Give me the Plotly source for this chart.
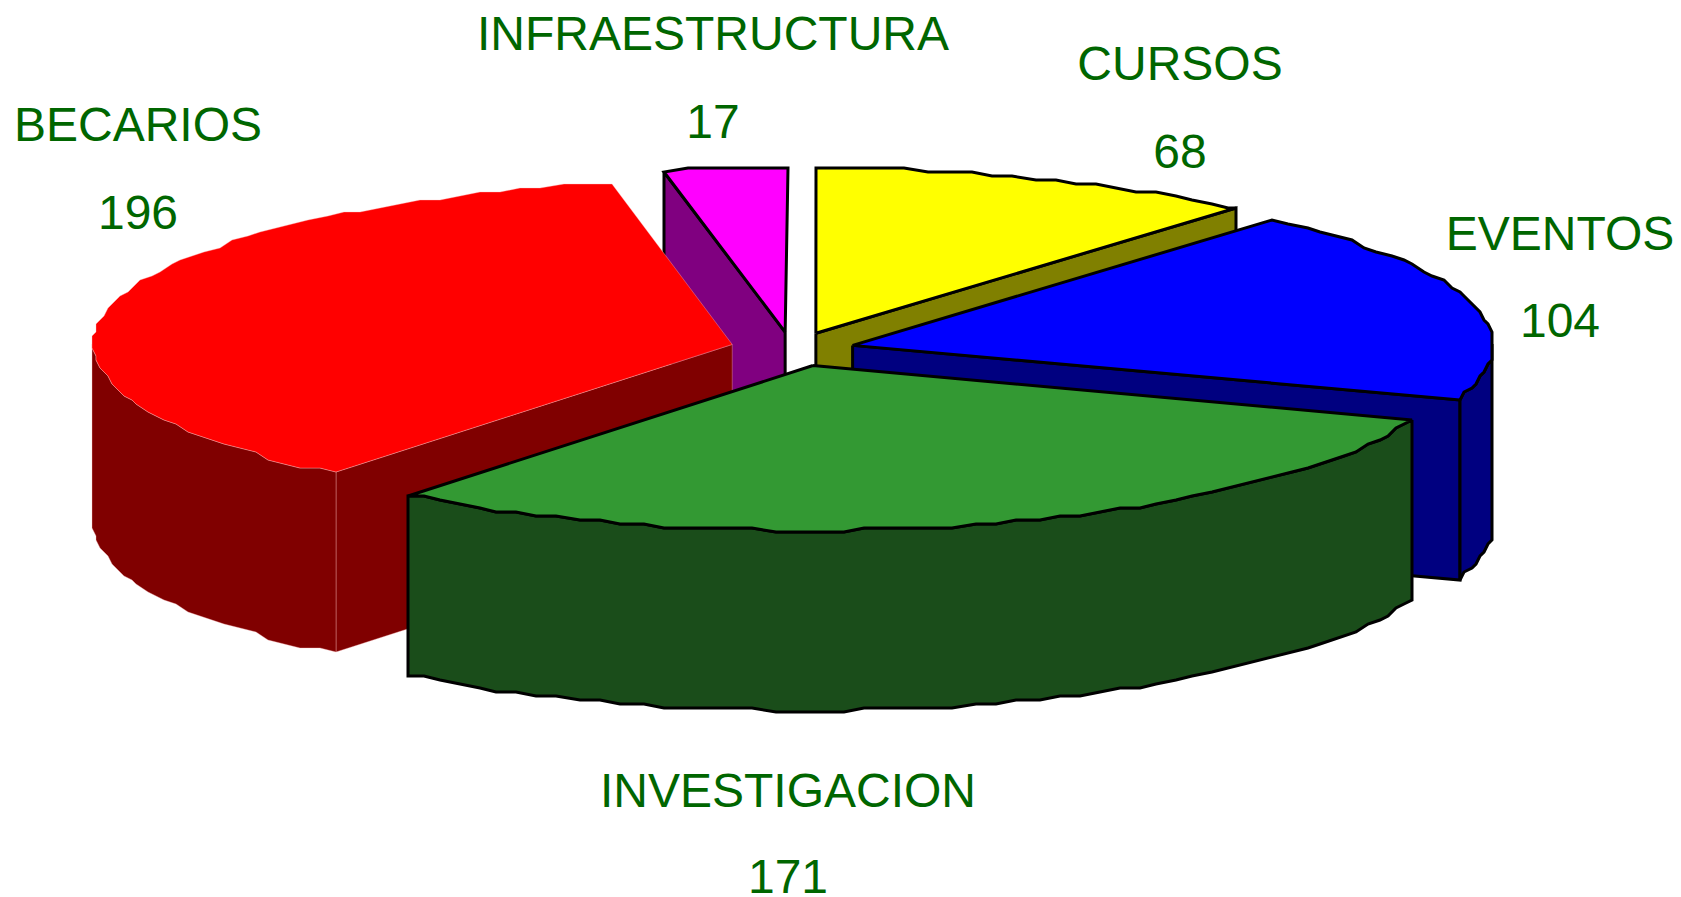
import numpy as np
import plotly.graph_objects as go

# Values, clockwise from 12 o'clock
categories = ['CURSOS', 'EVENTOS', 'INVESTIGACION', 'BECARIOS', 'INFRAESTRUCTURA']
values = [68, 104, 171, 196, 17]

top_colors = ['#FFFF00', '#0000FF', '#339933', '#FF0000', '#FF00FF']
side_colors = ['#808000', '#000080', '#1A4D1A', '#800000', '#800080']
edge_colors = ['black', 'black', 'black', 'rgba(255,190,190,0.6)', 'black']
edge_widths = [3, 3, 3, 0.6, 3]

# Label placement (pixels), name and value are separate lines
name_x = [1180, 1560, 788, 138, 713]
name_y = [68, 238, 795, 129, 38]
value_y = [156, 325, 881, 217, 126]

# Pie geometry in pixels
cx, cy = 793, 349
rx, ry = 641, 165
depth = 180
explode_x, explode_y = 61, 17
jag = 4  # the arcs are stair-stepped in the original
# the original's inner slice boundaries sit a little before the exact angle
edge_nudge = [0, -3, -2.5, -3.6, 0, 0]
# and its apexes are not quite on the explode direction
apex_shift = [0, 0, 6, -2, -2]

# back to front
draw_order = [4, 0, 3, 1, 2]

total = sum(values)
true_edges = np.concatenate([[0], np.cumsum(values)]) / total * 360
edges = true_edges + np.array(edge_nudge)


def rim(angles, ax, ay):
    t = np.radians(angles)
    x = ax + rx * np.sin(t)
    y = ay - ry * np.cos(t)
    return np.round(x / jag) * jag, np.round(y / jag) * jag


def add_poly(fig, x, y, fill, color, width):
    fig.add_trace(go.Scatter(
        x=np.append(x, x[0]),
        y=np.append(y, y[0]),
        mode='lines',
        fill='toself',
        fillcolor=fill,
        line=dict(color=color, width=width),
        hoverinfo='skip',
        showlegend=False,
    ))


fig = go.Figure()

for i in draw_order:
    a0, a1 = edges[i], edges[i + 1]
    mid = np.radians((true_edges[i] + true_edges[i + 1]) / 2)
    ax = cx + explode_x * np.sin(mid)
    ay = cy - explode_y * np.cos(mid)
    apex_x = ax + apex_shift[i]
    fill_top, fill_side, col, w = top_colors[i], side_colors[i], edge_colors[i], edge_widths[i]

    # cut faces that look towards the viewer
    for a, visible in ((a0, np.sin(np.radians(a0)) < -1e-6), (a1, np.sin(np.radians(a1)) > 1e-6)):
        if visible:
            ex, ey = rim(np.array([a]), ax, ay)
            add_poly(fig,
                     np.array([apex_x, ex[0], ex[0], apex_x]),
                     np.array([ay, ey[0], ey[0] + depth, ay + depth]),
                     fill_side, col, w)

    # same rim points for the top and the wall so no gap opens between them
    arc = np.arange(a0, a1, 2.0)
    arc = np.unique(np.concatenate([arc, [a1], [t for t in (90, 270) if a0 < t < a1]]))
    tx, ty = rim(arc, ax, ay)

    # outer wall, only the front half of the ellipse shows
    front = (arc >= 90) & (arc <= 270)
    if front.sum() > 1:
        wx, wy = tx[front], ty[front]
        add_poly(fig,
                 np.concatenate([wx, wx[::-1]]),
                 np.concatenate([wy, wy[::-1] + depth]),
                 fill_side, col, w)

    # top
    add_poly(fig,
             np.concatenate([[apex_x], tx]),
             np.concatenate([[ay], ty]),
             fill_top, col, w)

label_font = dict(family='Liberation Sans, Arial, sans-serif', size=48, color='#006600')
fig.add_trace(go.Scatter(
    x=name_x, y=name_y, text=categories, mode='text',
    textposition='middle center', textfont=label_font,
    hoverinfo='skip', showlegend=False, cliponaxis=False,
))
fig.add_trace(go.Scatter(
    x=name_x, y=value_y, text=[str(v) for v in values], mode='text',
    textposition='middle center', textfont=label_font,
    hoverinfo='skip', showlegend=False, cliponaxis=False,
))

fig.update_layout(
    width=1681,
    height=897,
    margin=dict(l=0, r=0, t=0, b=0),
    paper_bgcolor='white',
    plot_bgcolor='white',
    showlegend=False,
)
fig.update_xaxes(range=[0, 1681], visible=False, fixedrange=True)
fig.update_yaxes(range=[897, 0], visible=False, fixedrange=True)

fig.write_html('out.html', config={'displayModeBar': False},
               post_script="document.body.style.margin='0';document.body.style.overflow='hidden';")
